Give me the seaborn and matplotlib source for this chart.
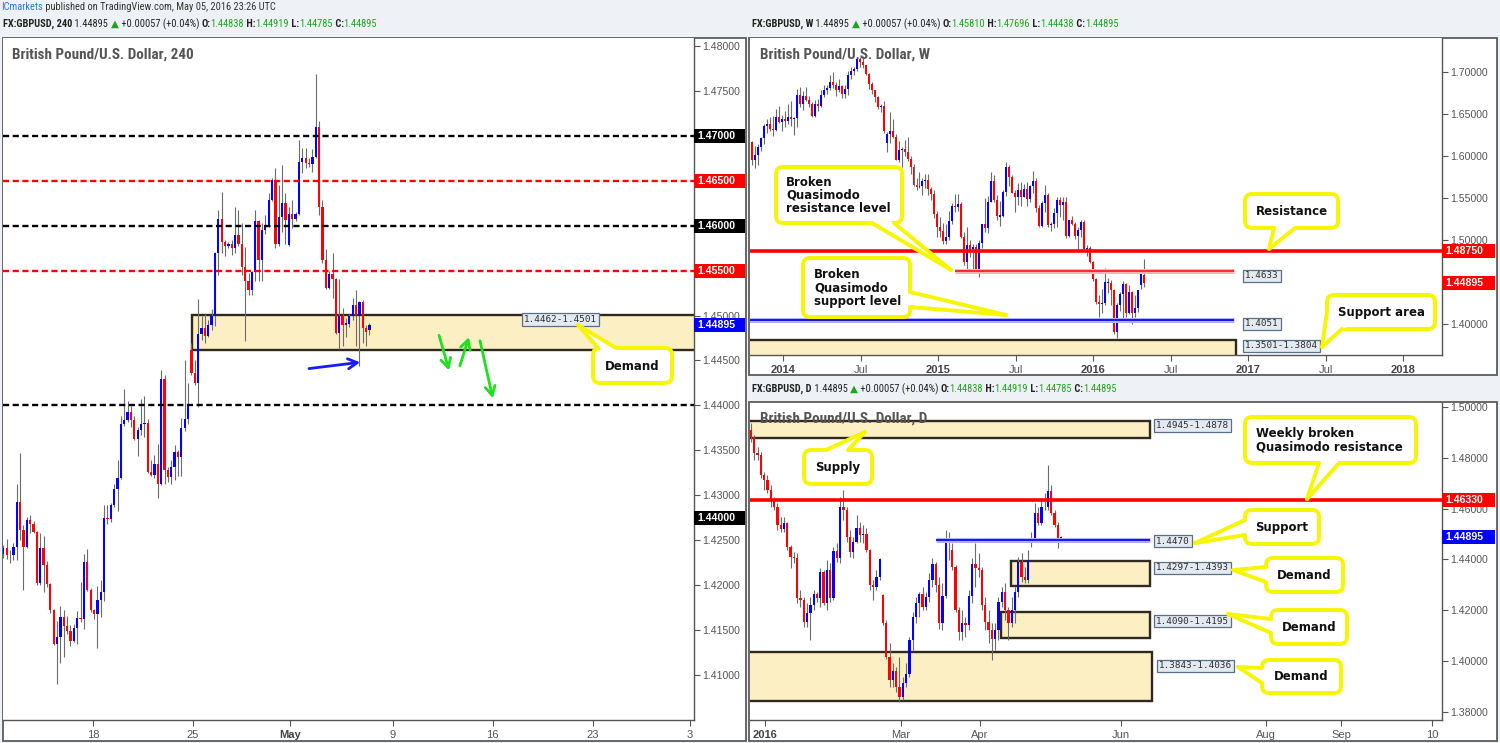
import numpy as np
import matplotlib
matplotlib.use("Agg")
import matplotlib.pyplot as plt
import seaborn as sns
from matplotlib.patches import Rectangle, FancyBboxPatch, Polygon
from matplotlib import font_manager

# ---------------------------------------------------------------- data
# 4-hour chart (Apr 12 - May 5, 2016)
h4_open = [1.4235,1.4241,1.4233,1.4234,1.4242,1.4293,1.4261,1.4242,1.4272,1.4268,
1.4259,1.4202,1.4241,1.4222,1.4201,1.4172,1.4134,1.4142,1.4165,1.4155,
1.4149,1.4138,1.4152,1.4163,1.4162,1.4226,1.4195,1.4172,1.4168,1.4184,
1.4192,1.4275,1.4274,1.4289,1.4307,1.4319,1.4379,1.4384,1.4393,1.4384,
1.4363,1.4373,1.4379,1.4380,1.4326,1.4323,1.4335,1.4312,1.4429,1.4328,
1.4320,1.4332,1.4348,1.4343,1.4375,1.4385,1.4462,1.4436,1.4425,1.4480,
1.4486,1.4477,1.4490,1.4500,1.4570,1.4607,1.4582,1.4577,1.4580,1.4575,
1.4590,1.4580,1.4554,1.4539,1.4528,1.4548,1.4605,1.4562,1.4595,1.4601,
1.4629,1.4651,1.4580,1.4610,1.4625,1.4579,1.4613,1.4607,1.4613,1.4671,
1.4675,1.4670,1.4669,1.4676,1.4710,1.4621,1.4562,1.4531,1.4546,1.4541,
1.4481,1.4500,1.4489,1.4491,1.4500,1.4512,1.4500,1.4515,1.4486,1.44838]
h4_high = [1.4245,1.4251,1.4239,1.4247,1.4313,1.4347,1.4267,1.4276,1.4278,1.4271,
1.4260,1.4258,1.4255,1.4227,1.4202,1.4173,1.4160,1.4177,1.4172,1.4166,
1.4156,1.4157,1.4171,1.4203,1.4235,1.4240,1.4197,1.4173,1.4199,1.4206,
1.4289,1.4289,1.4291,1.4313,1.4339,1.4388,1.4418,1.4405,1.4399,1.4388,
1.4376,1.4407,1.4410,1.4385,1.4339,1.4345,1.4357,1.4439,1.4434,1.4331,
1.4339,1.4356,1.4350,1.4386,1.4451,1.4425,1.4469,1.4451,1.4518,1.4500,
1.4502,1.4495,1.4507,1.4571,1.4618,1.4637,1.4584,1.4582,1.4584,1.4621,
1.4618,1.4603,1.4576,1.4547,1.4550,1.4618,1.4606,1.4603,1.4612,1.4636,
1.4653,1.4664,1.4645,1.4668,1.4636,1.4621,1.4629,1.4615,1.4695,1.4687,
1.4687,1.4675,1.4685,1.4769,1.4717,1.4629,1.4574,1.4550,1.4570,1.4542,
1.4541,1.4508,1.4497,1.4502,1.4520,1.4528,1.4516,1.4517,1.4489,1.44919]
h4_low = [1.4230,1.4229,1.4225,1.4228,1.4228,1.4250,1.4195,1.4241,1.4258,1.4258,
1.4200,1.4200,1.4192,1.4198,1.4169,1.4133,1.4090,1.4113,1.4120,1.4146,
1.4132,1.4137,1.4135,1.4159,1.4151,1.4193,1.4170,1.4162,1.4130,1.4164,
1.4182,1.4268,1.4270,1.4287,1.4283,1.4318,1.4377,1.4382,1.4376,1.4361,
1.4344,1.4367,1.4365,1.4325,1.4321,1.4319,1.4297,1.4311,1.4313,1.4315,
1.4313,1.4317,1.4321,1.4321,1.4371,1.4379,1.4434,1.4423,1.4398,1.4473,
1.4469,1.4476,1.4484,1.4488,1.4545,1.4570,1.4566,1.4575,1.4567,1.4570,
1.4577,1.4545,1.4472,1.4523,1.4523,1.4539,1.4539,1.4539,1.4591,1.4599,
1.4627,1.4575,1.4577,1.4593,1.4580,1.4577,1.4597,1.4605,1.4612,1.4659,
1.4664,1.4665,1.4660,1.4675,1.4612,1.4559,1.4530,1.4530,1.4519,1.4480,
1.4463,1.4466,1.4476,1.4487,1.4495,1.4466,1.4444,1.4469,1.4466,1.44785]
h4_close = [1.4241,1.4233,1.4234,1.4242,1.4293,1.4261,1.4242,1.4272,1.4268,1.4259,
1.4202,1.4241,1.4222,1.4201,1.4172,1.4134,1.4142,1.4165,1.4155,1.4149,
1.4138,1.4152,1.4163,1.4162,1.4226,1.4195,1.4172,1.4168,1.4184,1.4192,
1.4275,1.4274,1.4289,1.4307,1.4319,1.4379,1.4384,1.4393,1.4384,1.4363,
1.4373,1.4379,1.4380,1.4326,1.4323,1.4335,1.4312,1.4429,1.4328,1.4320,
1.4332,1.4348,1.4343,1.4375,1.4385,1.4399,1.4436,1.4425,1.4480,1.4486,
1.4477,1.4490,1.4500,1.4570,1.4607,1.4582,1.4577,1.4580,1.4575,1.4590,
1.4580,1.4554,1.4539,1.4528,1.4548,1.4605,1.4562,1.4595,1.4601,1.4629,
1.4651,1.4580,1.4610,1.4625,1.4606,1.4613,1.4607,1.4613,1.4671,1.4675,
1.4670,1.4669,1.4676,1.4710,1.4621,1.4562,1.4531,1.4546,1.4541,1.4481,
1.4500,1.4489,1.4492,1.4500,1.4512,1.4500,1.4515,1.4486,1.4482,1.44895]
h4_tick_pos = [26.7, 56.5, 85.3, 116.0, 145.7, 175.5, 204.4]
h4_tick_labels = ["18", "25", "May", "9", "16", "23", "3"]
h4_price_ticks = [1.41, 1.415, 1.42, 1.425, 1.43, 1.435, 1.44, 1.445,
                  1.45, 1.455, 1.46, 1.465, 1.47, 1.475, 1.48]
h4_black_levels = [1.47, 1.46, 1.44]
h4_red_levels = [1.465, 1.455]
h4_demand = (1.4462, 1.4501)

# weekly chart (Oct 28, 2013 - May 2, 2016)
w_open = [1.6165,1.5952,1.6012,1.6110,1.6210,1.6355,1.6385,1.6318,1.6305,1.6470,
1.6400,1.6445,1.6420,1.6470,1.6440,1.6450,1.6730,1.6620,1.6710,1.6670,
1.6620,1.6480,1.6620,1.6590,1.6730,1.6790,1.6810,1.6880,1.6850,1.6790,
1.6830,1.6740,1.6800,1.6970,1.7010,1.7035,1.7150,1.7115,1.7080,1.6980,
1.6860,1.6780,1.6700,1.6580,1.6595,1.6150,1.6260,1.6300,1.6230,1.5955,
1.6070,1.6085,1.6050,1.5965,1.5865,1.5660,1.5630,1.5645,1.5700,1.5710,
1.5610,1.5550,1.5310,1.5150,1.5110,1.4985,1.5030,1.5230,1.5400,1.5390,
1.5430,1.5035,1.4735,1.4935,1.4890,1.4915,1.4630,1.4970,1.5185,1.5140,
1.5455,1.5700,1.5480,1.5280,1.5290,1.5570,1.5875,1.5745,1.5560,1.5515,
1.5595,1.5515,1.5610,1.5490,1.5640,1.5700,1.5380,1.5170,1.5440,1.5530,
1.5180,1.5185,1.5320,1.5475,1.5420,1.5455,1.5045,1.5235,1.5185,1.5045,
1.5125,1.5220,1.4895,1.4905,1.4735,1.4530,1.4265,1.4240,1.4250,1.4495,
1.4490,1.4410,1.3905,1.4230,1.4360,1.4480,1.4130,1.4380,1.4130,1.4195,
1.4465,1.45810]
w_high = [1.6180,1.6115,1.6140,1.6225,1.6385,1.6440,1.6466,1.6480,1.6560,1.6600,
1.6490,1.6540,1.6620,1.6660,1.6470,1.6800,1.6820,1.6770,1.6820,1.6720,
1.6640,1.6670,1.6680,1.6780,1.6840,1.6850,1.6960,1.6996,1.6880,1.6920,
1.6850,1.6850,1.7010,1.7060,1.7060,1.7180,1.7180,1.7192,1.7085,1.6990,
1.6880,1.6790,1.6710,1.6620,1.6650,1.6280,1.6525,1.6440,1.6260,1.6180,
1.6110,1.6185,1.6225,1.6000,1.5900,1.5740,1.5810,1.5740,1.5790,1.5785,
1.5630,1.5600,1.5340,1.5270,1.5200,1.5190,1.5340,1.5440,1.5550,1.5550,
1.5450,1.5090,1.5160,1.5000,1.4950,1.4950,1.5000,1.5190,1.5500,1.5520,
1.5815,1.5770,1.5530,1.5470,1.5590,1.5930,1.5890,1.5770,1.5590,1.5675,
1.5690,1.5670,1.5690,1.5660,1.5820,1.5740,1.5420,1.5470,1.5660,1.5560,
1.5210,1.5385,1.5510,1.5510,1.5510,1.5510,1.5240,1.5290,1.5220,1.5160,
1.5240,1.5240,1.4940,1.4930,1.4750,1.4550,1.4350,1.4415,1.4665,1.4550,
1.4520,1.4420,1.4250,1.4385,1.4515,1.4485,1.4460,1.4390,1.4340,1.4410,
1.4640,1.47696]
w_low = [1.5894,1.5855,1.5890,1.6060,1.6140,1.6270,1.6300,1.6240,1.6300,1.6390,
1.6300,1.6340,1.6380,1.6360,1.6250,1.6350,1.6580,1.6550,1.6660,1.6580,
1.6460,1.6460,1.6540,1.6580,1.6700,1.6740,1.6780,1.6810,1.6720,1.6760,
1.6690,1.6690,1.6730,1.6920,1.6960,1.7010,1.7060,1.7050,1.6960,1.6800,
1.6740,1.6640,1.6560,1.6520,1.6270,1.6050,1.6160,1.6220,1.5950,1.5930,
1.5875,1.6000,1.5940,1.5790,1.5640,1.5590,1.5615,1.5540,1.5620,1.5540,
1.5480,1.5260,1.5035,1.5030,1.4950,1.4950,1.5000,1.5190,1.5330,1.5340,
1.5025,1.4700,1.4635,1.4800,1.4640,1.4620,1.4565,1.4900,1.5090,1.5080,
1.5450,1.5450,1.5240,1.5170,1.5270,1.5520,1.5640,1.5560,1.5330,1.5420,
1.5410,1.5510,1.5410,1.5450,1.5560,1.5330,1.5160,1.5160,1.5330,1.5160,
1.5110,1.5140,1.5160,1.5270,1.5240,1.5025,1.5030,1.5180,1.5010,1.4895,
1.5035,1.4890,1.4805,1.4725,1.4515,1.4235,1.4080,1.4130,1.4230,1.4370,
1.4230,1.3880,1.3835,1.4160,1.4050,1.4080,1.4120,1.4005,1.4080,1.4140,
1.4420,1.44438]
w_close = [1.5952,1.6012,1.6110,1.6210,1.6355,1.6385,1.6318,1.6305,1.6470,1.6400,
1.6445,1.6420,1.6470,1.6440,1.6450,1.6730,1.6620,1.6710,1.6670,1.6620,
1.6480,1.6620,1.6590,1.6730,1.6790,1.6810,1.6880,1.6850,1.6790,1.6830,
1.6740,1.6800,1.6970,1.7010,1.7035,1.7150,1.7115,1.7080,1.6980,1.6860,
1.6780,1.6700,1.6580,1.6595,1.6300,1.6260,1.6300,1.6230,1.5955,1.6070,
1.6085,1.6050,1.5965,1.5865,1.5660,1.5630,1.5645,1.5700,1.5710,1.5610,
1.5550,1.5310,1.5150,1.5110,1.4985,1.5030,1.5230,1.5400,1.5390,1.5430,
1.5035,1.4735,1.4935,1.4890,1.4915,1.4630,1.4970,1.5185,1.5140,1.5455,
1.5700,1.5480,1.5280,1.5290,1.5570,1.5875,1.5745,1.5560,1.5515,1.5595,
1.5515,1.5610,1.5490,1.5640,1.5700,1.5380,1.5170,1.5440,1.5530,1.5180,
1.5185,1.5320,1.5475,1.5420,1.5455,1.5045,1.5235,1.5185,1.5045,1.5125,
1.5220,1.4895,1.4905,1.4735,1.4530,1.4265,1.4240,1.4250,1.4495,1.4500,
1.4410,1.3905,1.4230,1.4360,1.4480,1.4130,1.4380,1.4130,1.4195,1.4400,
1.4615,1.44895]
w_tick_pos = [10.3, 36.3, 62.3, 88.3, 114.0, 140.0, 166.0, 192.0, 217.7]
w_tick_labels = ["2014", "Jul", "2015", "Jul", "2016", "Jul", "2017", "Jul", "2018"]
w_price_ticks = [1.40, 1.45, 1.50, 1.55, 1.60, 1.65, 1.70]
w_resistance = 1.4875
w_qm_resistance = 1.4633
w_qm_support = 1.4051
w_support_area = (1.3501, 1.3804)

# daily chart (Dec 28, 2015 - May 6, 2016)
d_open = [1.4909,1.4883,1.4818,1.4811,1.4732,1.4713,1.4673,1.4634,1.4608,1.4535,
1.4520,1.4542,1.4450,1.4411,1.4404,1.4247,1.4240,1.4155,1.4188,1.4220,
1.4264,1.4247,1.4349,1.4230,1.4358,1.4247,1.4433,1.4407,1.4605,1.4594,
1.4489,1.4430,1.4470,1.4522,1.4496,1.4500,1.4437,1.4299,1.4293,1.4332,
1.4260,1.4148,1.4017,1.3925,1.3961,1.3899,1.3860,1.3912,1.3948,1.4083,
1.4175,1.4227,1.4266,1.4214,1.4253,1.4319,1.4382,1.4299,1.4148,1.4256,
1.4483,1.4437,1.4369,1.4203,1.4116,1.4148,1.4141,1.4256,1.4382,1.4365,
1.4358,1.4220,1.4155,1.4122,1.4085,1.4122,1.4234,1.4273,1.4201,1.4148,
1.4201,1.4273,1.4391,1.4332,1.4319,1.4463,1.4483,1.4581,1.4542,1.4605,
1.4608,1.4671,1.4581,1.4535,1.44838]
d_high = [1.4936,1.4890,1.4844,1.4824,1.4745,1.4732,1.4693,1.4647,1.4621,1.4568,
1.4568,1.4548,1.4457,1.4430,1.4424,1.4280,1.4253,1.4227,1.4253,1.4280,
1.4273,1.4365,1.4358,1.4398,1.4385,1.4450,1.4463,1.4647,1.4673,1.4608,
1.4516,1.4489,1.4575,1.4548,1.4535,1.4522,1.4443,1.4319,1.4358,1.4404,
1.4266,1.4161,1.4070,1.3991,1.3978,1.4017,1.3938,1.3991,1.4096,1.4194,
1.4253,1.4273,1.4293,1.4273,1.4345,1.4404,1.4391,1.4332,1.4306,1.4516,
1.4509,1.4463,1.4378,1.4214,1.4201,1.4175,1.4280,1.4404,1.4463,1.4424,
1.4371,1.4253,1.4201,1.4148,1.4148,1.4253,1.4293,1.4306,1.4214,1.4253,
1.4293,1.4411,1.4424,1.4371,1.4437,1.4509,1.4621,1.4608,1.4634,1.4660,
1.4770,1.4693,1.4594,1.4548,1.44919]
d_low = [1.4864,1.4791,1.4791,1.4719,1.4673,1.4660,1.4608,1.4594,1.4516,1.4509,
1.4509,1.4437,1.4365,1.4385,1.4227,1.4214,1.4135,1.4135,1.4083,1.4201,
1.4234,1.4214,1.4220,1.4201,1.4234,1.4240,1.4391,1.4385,1.4555,1.4470,
1.4411,1.4404,1.4463,1.4470,1.4463,1.4430,1.4280,1.4240,1.4280,1.4319,
1.4141,1.4010,1.3899,1.3899,1.3879,1.3840,1.3846,1.3899,1.3938,1.4043,
1.4148,1.4175,1.4201,1.4201,1.4234,1.4293,1.4273,1.4128,1.4122,1.4247,
1.4398,1.4358,1.4194,1.4083,1.4083,1.4096,1.4122,1.4227,1.4293,1.4332,
1.4201,1.4122,1.4070,1.4005,1.4043,1.4083,1.4214,1.4161,1.4083,1.4135,
1.4148,1.4253,1.4312,1.4306,1.4306,1.4450,1.4470,1.4535,1.4535,1.4594,
1.4594,1.4575,1.4529,1.4444,1.44785]
d_close = [1.4883,1.4818,1.4811,1.4732,1.4713,1.4673,1.4634,1.4608,1.4535,1.4520,
1.4542,1.4450,1.4411,1.4404,1.4247,1.4240,1.4155,1.4188,1.4220,1.4264,
1.4247,1.4349,1.4230,1.4358,1.4247,1.4433,1.4407,1.4605,1.4594,1.4489,
1.4430,1.4470,1.4522,1.4496,1.4500,1.4437,1.4299,1.4293,1.4332,1.4402,
1.4148,1.4017,1.3925,1.3961,1.3899,1.3860,1.3912,1.3948,1.4083,1.4175,
1.4227,1.4266,1.4214,1.4253,1.4319,1.4382,1.4299,1.4148,1.4256,1.4483,
1.4476,1.4369,1.4203,1.4116,1.4148,1.4141,1.4256,1.4382,1.4365,1.4358,
1.4220,1.4155,1.4122,1.4085,1.4122,1.4234,1.4273,1.4201,1.4148,1.4201,
1.4273,1.4391,1.4332,1.4319,1.4398,1.4483,1.4581,1.4542,1.4605,1.4608,
1.4671,1.4581,1.4535,1.4484,1.44895]
d_tick_pos = [4.2, 45.5, 69.4, 112.1, 156.1, 178.8, 206.4]
d_tick_labels = ["2016", "Mar", "Apr", "Jun", "Aug", "Sep", "10"]
d_price_ticks = [1.38, 1.40, 1.42, 1.44, 1.46, 1.48, 1.50]
d_supply = (1.4878, 1.4945)
d_qm_resistance = 1.4633
d_support = 1.4470
d_demands = [(1.4297, 1.4393), (1.4090, 1.4195), (1.3843, 1.4036)]
last_price = 1.44895

# ---------------------------------------------------------------- style
sns.set_theme(style="white")
_names = {f.name for f in font_manager.fontManager.ttflist}
def pick(*cands):
    for c in cands:
        if c in _names:
            return c
    return "DejaVu Sans"
NARROW = pick("Liberation Sans Narrow", "Roboto Condensed", "Liberation Sans")
SANS = pick("Liberation Sans", "DejaVu Sans")
BOLD = "DejaVu Sans"
MONO = pick("DejaVu Sans Mono", "Liberation Mono")
plt.rcParams["font.family"] = [SANS, "DejaVu Sans"]

W, H = 1500, 743
fig = plt.figure(figsize=(W / 100, H / 100), dpi=100)
fig.patch.set_facecolor("#eef1f5")

def add_px_axes(x0, y0, x1, y1):
    return fig.add_axes([x0 / W, 1 - y1 / H, (x1 - x0) / W, (y1 - y0) / H])

bg = add_px_axes(0, 0, W, H)
bg.set_xlim(0, W); bg.set_ylim(H, 0); bg.axis("off"); bg.set_zorder(-5)
for (x0, y0, x1, y1) in [(3, 38, 746, 741), (749, 38, 1497, 375), (749, 402, 1497, 741)]:
    bg.add_patch(Rectangle((x0, y0), x1 - x0, y1 - y0, facecolor="white",
                           edgecolor="#5c5c5c", lw=1.3))

ax4 = add_px_axes(3, 38, 694, 720)
axw = add_px_axes(750, 38, 1442, 355)
axd = add_px_axes(750, 403, 1442, 720)

def style_axis(ax, xlim, ylim, yticks, xticks, xlabels, bold_labels, hidden_ticks=()):
    ax.set_facecolor("white")
    sns.despine(ax=ax, left=True, top=True, right=False, bottom=False)
    for s in ("right", "bottom"):
        ax.spines[s].set_color("#555555"); ax.spines[s].set_linewidth(1.0)
    ax.set_xlim(*xlim); ax.set_ylim(*ylim)
    ax.yaxis.tick_right()
    ax.set_yticks(yticks)
    ax.set_yticklabels(["" if any(abs(v - hv) < 1e-9 for hv in hidden_ticks)
                        else f"{v:.5f}" for v in yticks])
    ax.set_xticks(xticks)
    ax.set_xticklabels(xlabels)
    ax.tick_params(axis="y", right=True, left=False, length=4, width=0.8, color="#555555",
                   labelsize=7.6, labelcolor="#555555", pad=2)
    ax.tick_params(axis="x", bottom=True, length=4, width=0.8, color="#555555",
                   labelsize=8, labelcolor="#555555", pad=3)
    for t in ax.get_xticklabels():
        if t.get_text() in bold_labels:
            t.set_fontweight("bold"); t.set_color("#444444")
    ax.grid(False)

def draw_candles(ax, o, h, l, c, width, min_body):
    o, h, l, c = map(np.asarray, (o, h, l, c))
    h = np.maximum(h, np.maximum(o, c)); l = np.minimum(l, np.minimum(o, c))
    x = np.arange(len(o))
    up = c >= o
    ax.vlines(x, l, h, color="#6c6c6c", lw=0.8, zorder=2)
    diff = np.abs(c - o)
    height = np.maximum(diff, min_body)
    bottom = np.where(diff < min_body, (o + c) / 2 - min_body / 2, np.minimum(o, c))
    ax.bar(x[up], height[up], bottom=bottom[up], width=width, color="#0000ff",
           linewidth=0, zorder=3)
    ax.bar(x[~up], height[~up], bottom=bottom[~up], width=width, color="#ff0000",
           linewidth=0, zorder=3)

ZONE_FC, ZONE_EC = "#fdefc4", "#2f2a1d"
def zone(ax, x0, x1, lo, hi):
    ax.add_patch(Rectangle((x0, lo), x1 - x0, hi - lo, facecolor=ZONE_FC, edgecolor=ZONE_EC,
                           lw=1.7, zorder=1))

# ---------------------------------------------------------------- 4H panel
style_axis(ax4, (-0.09, 205.6), (1.40499, 1.48089), h4_price_ticks, h4_tick_pos,
           h4_tick_labels, {"May"}, hidden_ticks=(1.47, 1.465, 1.46, 1.455))
zone(ax4, 56.2, 215, *h4_demand)
draw_candles(ax4, h4_open, h4_high, h4_low, h4_close, 0.68, 0.00008)
for lv in h4_black_levels:
    ax4.axhline(lv, color="#000000", lw=1.7, ls=(0, (2.6, 1.5)), zorder=4)
for lv in h4_red_levels:
    ax4.axhline(lv, color="#ff0000", lw=1.7, ls=(0, (2.6, 1.5)), zorder=4)
arrow_blue = dict(arrowstyle="->,head_length=0.55,head_width=0.3", color="#1a1aff", lw=2.0,
                  shrinkA=0, shrinkB=0)
ax4.annotate("", xy=(106.2, 1.4448), xytext=(91.0, 1.4441), arrowprops=arrow_blue, zorder=6)
arrow_green = dict(arrowstyle="->,head_length=0.55,head_width=0.3", color="#1ee01e", lw=2.0,
                   shrinkA=0, shrinkB=0)
for tail, tip in [((129.7, 1.4478), (132.7, 1.4439)),
                  ((135.9, 1.4444), (138.6, 1.4476)),
                  ((141.9, 1.4472), (145.7, 1.4408))]:
    ax4.annotate("", xy=tip, xytext=tail, arrowprops=arrow_green, zorder=6)

# ---------------------------------------------------------------- weekly panel
style_axis(axw, (-0.67, 230.7), (1.3631, 1.7405), w_price_ticks, w_tick_pos,
           w_tick_labels, {"2014", "2015", "2016", "2017", "2018"}, hidden_ticks=(1.45,))
zone(axw, -2, 161.7, *w_support_area)
draw_candles(axw, w_open, w_high, w_low, w_close, 0.66, 0.0015)
axw.axhline(w_resistance, color="#ff0000", lw=2.6, zorder=4)
axw.plot([68, 161], [w_qm_resistance] * 2, color="#ffb3b3", lw=3.6, zorder=4,
         solid_capstyle="butt")
axw.plot([68, 161], [w_qm_resistance] * 2, color="#ff2a2a", lw=1.4, zorder=5,
         solid_capstyle="butt")
axw.plot([-2, 161], [w_qm_support] * 2, color="#b0b0ff", lw=3.6, zorder=4,
         solid_capstyle="butt")
axw.plot([-2, 161], [w_qm_support] * 2, color="#1414ff", lw=1.4, zorder=5,
         solid_capstyle="butt")

# ---------------------------------------------------------------- daily panel
style_axis(axd, (-0.3, 209.4), (1.3768, 1.5016), d_price_ticks, d_tick_pos,
           d_tick_labels, {"2016"})
zone(axd, -2, 120.9, *d_supply)
zone(axd, 78.8, 120.9, *d_demands[0])
zone(axd, 75.8, 120.9, *d_demands[1])
zone(axd, -2, 121.5, *d_demands[2])
draw_candles(axd, d_open, d_high, d_low, d_close, 0.68, 0.0003)
axd.axhline(d_qm_resistance, color="#ff0000", lw=2.6, zorder=4)
support_drawn = d_support + 0.0008
axd.plot([56, 121], [support_drawn] * 2, color="#b0b0ff", lw=3.6, zorder=4,
         solid_capstyle="butt")
axd.plot([56, 121], [support_drawn] * 2, color="#1414ff", lw=1.4, zorder=5,
         solid_capstyle="butt")

# ---------------------------------------------------------------- overlay
ov = add_px_axes(0, 0, W, H)
ov.set_xlim(0, W); ov.set_ylim(H, 0); ov.axis("off"); ov.set_zorder(10)
ov.patch.set_alpha(0)

def to_px(ax, x, y):
    X, Y = ax.transData.transform((x, y))
    return X, H - Y

def price_tag(ax, price, text, color, x_left, x_right):
    _, y = to_px(ax, 0, price)
    ov.add_patch(Rectangle((x_left, y - 7), x_right - x_left, 14, facecolor=color,
                           edgecolor="none", zorder=16))
    ov.text(x_left + 3, y, text, color="white", fontsize=7.6, fontweight="bold",
            family=SANS, va="center", ha="left", zorder=17)

for lv in h4_black_levels[:2]:
    price_tag(ax4, lv, f"{lv:.5f}", "#000000", 694, 745)
for lv in h4_red_levels:
    price_tag(ax4, lv, f"{lv:.5f}", "#ff0000", 694, 745)
price_tag(ax4, last_price, f"{last_price:.5f}", "#0000ff", 694, 745)
price_tag(ax4, 1.4275, f"{h4_black_levels[2]:.5f}", "#000000", 694, 745)
price_tag(axw, w_resistance, f"{w_resistance:.5f}", "#ff0000", 1442, 1495)
price_tag(axw, last_price, f"{last_price:.5f}", "#ff0000", 1442, 1495)
price_tag(axd, d_qm_resistance, f"{d_qm_resistance:.5f}", "#ff0000", 1442, 1495)
price_tag(axd, last_price, f"{last_price:.5f}", "#0000ff", 1442, 1495)

def tag(x, y, text):
    ov.text(x + 2, y, text, ha="left", va="center", fontsize=6.7, family=MONO,
            color="#2d2d2d", zorder=15,
            bbox=dict(boxstyle="square,pad=0.2", facecolor="#e3eaf1",
                      edgecolor="#5b7083", lw=0.9))

tag(522, 319.5, f"{h4_demand[0]:.4f}-{h4_demand[1]:.4f}")
tag(1243, 276, f"{w_qm_resistance:.4f}")
tag(1243, 324, f"{w_qm_support:.4f}")
tag(1243, 346, f"{w_support_area[0]:.4f}-{w_support_area[1]:.4f}")
tag(1154, 425.5, f"{d_supply[1]:.4f}-{d_supply[0]:.4f}")
tag(1154, 541, f"{d_support:.4f}")
tag(1154, 568, f"{d_demands[0][0]:.4f}-{d_demands[0][1]:.4f}")
tag(1154, 621, f"{d_demands[1][0]:.4f}-{d_demands[1][1]:.4f}")
tag(1157, 666, f"{d_demands[2][0]:.4f}-{d_demands[2][1]:.4f}")

YEL = "#f6f600"
def callout(box, tip, base, text, ha="center", tx=None, fs=8.5):
    x0, y0, x1, y1 = box
    ov.add_patch(FancyBboxPatch((x0, y0), x1 - x0, y1 - y0,
                                boxstyle="round,pad=0,rounding_size=7",
                                facecolor="white", edgecolor=YEL, lw=2.8, zorder=20))
    cx, cy = (x0 + x1) / 2, (y0 + y1) / 2
    ov.add_patch(Polygon([base[0], tip, base[1], (cx, cy)], closed=True,
                         facecolor="white", edgecolor="none", zorder=21))
    for b in base:
        ov.plot([b[0], tip[0]], [b[1], tip[1]], color=YEL, lw=2.8,
                solid_capstyle="round", zorder=22)
    xt = cx if tx is None else tx
    ov.text(xt, cy + 0.5, text, ha=ha, va="center", fontsize=fs, fontweight="bold",
            family=BOLD, color="#111111", linespacing=1.0, zorder=23)

callout((593, 348, 672, 383), (578, 325), [(598, 348), (616, 348)], "Demand")
callout((776, 167, 902, 223), (951, 270), [(872, 223), (894, 223)],
        "Broken\nQuasimodo\nresistance level", ha="left", tx=786)
callout((803, 258, 910, 317), (1006, 315), [(910, 292), (910, 307)],
        "Broken\nQuasimodo\nsupport level", ha="left", tx=814)
callout((1245, 194, 1338, 228), (1269, 249), [(1274, 228), (1295, 228)], "Resistance")
callout((1327, 295, 1435, 329), (1322, 347), [(1327, 312), (1342, 329)], "Support area")
callout((804, 450, 872, 484), (865, 432), [(826, 450), (848, 450)], "Supply")
callout((1245, 417, 1416, 463), (1307, 499), [(1319, 463), (1339, 463)],
        "Weekly broken\nQuasimodo resistance", ha="left", tx=1256)
callout((1245, 510, 1319, 544), (1195, 543), [(1245, 520), (1245, 535)], "Support")
callout((1266, 558, 1343, 592), (1233, 570), [(1266, 567), (1266, 582)], "Demand")
callout((1271, 610, 1347, 644), (1228, 614), [(1271, 619), (1271, 633)], "Demand")
callout((1262, 660, 1341, 693), (1238, 667), [(1262, 668), (1262, 683)], "Demand")

# titles
for x, y, s in [(12, 55, "British Pound/U.S. Dollar, 240"),
                (760, 55, "British Pound/U.S. Dollar, W"),
                (760, 419, "British Pound/U.S. Dollar, D")]:
    ov.text(x, y, s, ha="left", va="center", fontsize=10.9, fontweight="bold",
            family=NARROW, color="#555555", zorder=18)

# headers
renderer = fig.canvas.get_renderer()
def rich(x, y, pieces, fs):
    for s, color, weight, fam in pieces:
        t = ov.text(x, y, s, color=color, fontsize=fs, fontweight=weight, family=fam,
                    va="center", ha="left", zorder=18)
        bb = t.get_window_extent(renderer=renderer)
        x += bb.width

GRN = "#1ea51e"
def ohlc_header(x, y, tf, o, h, l, c):
    rich(x, y, [(f"FX:GBPUSD, {tf}", "#222222", "bold", NARROW),
                (f" {last_price:.5f} ", "#222222", "normal", NARROW),
                ("\u25b2", GRN, "normal", "DejaVu Sans"),
                (" +0.00057 (+0.04%) ", "#222222", "normal", NARROW),
                ("O:", "#222222", "bold", NARROW), (f"{o:.5f}", GRN, "normal", NARROW),
                (" H:", "#222222", "bold", NARROW), (f"{h:.5f}", GRN, "normal", NARROW),
                (" L:", "#222222", "bold", NARROW), (f"{l:.5f}", GRN, "normal", NARROW),
                (" C:", "#222222", "bold", NARROW), (f"{c:.5f}", GRN, "normal", NARROW)],
         7.5)

rich(1, 7.5, [("ICmarkets", "#2a7ad8", "normal", NARROW),
              (" published on TradingView.com, May 05, 2016 23:26 UTC", "#333333", "normal",
               NARROW)], 7.5)
ohlc_header(3, 24, "240", h4_open[-1], h4_high[-1], h4_low[-1], h4_close[-1])
ohlc_header(752, 24, "W", w_open[-1], w_high[-1], w_low[-1], w_close[-1])
ohlc_header(752, 389, "D", d_open[-1], d_high[-1], d_low[-1], d_close[-1])

fig.savefig("out.png", dpi=100, facecolor=fig.get_facecolor())
